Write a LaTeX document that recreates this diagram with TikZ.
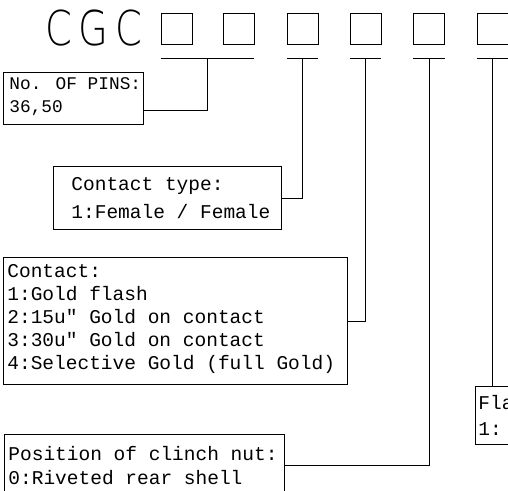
\documentclass[tikz,border=0pt]{standalone}
\usepackage{fontspec}
\usepackage{tikz}
\usetikzlibrary{calc,positioning}
\newfontfamily\cadfont{Liberation Mono}
\newfontfamily\cadbig[FakeStretch=0.8,LetterSpace=14]{DejaVu Sans ExtraLight}

\begin{document}
\begin{tikzpicture}[x=1pt,y=-1pt,line width=0.8pt,
    digit/.style={draw,minimum size=31,inner sep=0},
    frame/.style={draw,anchor=north west,inner sep=0},
    cadtext/.style={anchor=west,align=left,inner sep=0,font=\cadfont\fontsize{19.5}{23}\selectfont}]
      \useasboundingbox (0,0) rectangle (508,490);
      \node[anchor=base west,inner sep=0,font=\cadbig\fontsize{48}{48}\selectfont] (code) at (45,45) {CGC};
      \foreach \n/\x in {1/176.5,2/238.5,3/302.5,4/365.5,5/429,6/492.5}
        \node[digit] (d\n) at (\x,29) {};
      \draw ([yshift=-13]d1.south west) -- ([yshift=-13]d2.south east);
      \foreach \d in {d3,d4,d5,d6}
        \draw ([yshift=-13]\d.south west) -- ([yshift=-13]\d.south east);
      \node[frame,minimum width=140,minimum height=52] (pins) at (3,72) {};
      \node[cadtext,font=\cadfont\fontsize{17.8}{23}\selectfont] (pinstext) at ([xshift=6,yshift=2]pins.west) {No. OF PINS:\\36,50};
      \node[frame,minimum width=228,minimum height=63] (type) at (53,166) {};
      \node[cadtext] (typetext) at ([xshift=18]type.west) {Contact type:\\[5pt]1:Female / Female};
      \node[frame,minimum width=344,minimum height=127] (contact) at (3,257) {};
      \node[cadtext] (contacttext) at ([xshift=4,yshift=2]contact.west) {Contact:\\1:Gold flash\\2:15u" Gold on contact\\3:30u" Gold on contact\\4:Selective Gold (full Gold)};
      \node[frame,minimum width=280,minimum height=62] (clinch) at (4,434) {};
      \node[cadtext] (clinchtext) at ([xshift=4]clinch.west) {Position of clinch nut:\\[1pt]0:Riveted rear shell};
      \node[frame,minimum width=80,minimum height=58] (flange) at (475,386) {};
      \node[cadtext] (flangetext) at ([xshift=3]flange.west) {Fla\\[3pt]1:};
      \draw ([yshift=-12]pins.east) -| ($(d1.south)!.5!(d2.south)+(0,13)$);
      \draw (type.east) -| ($(d3.south)+(0,13)$);
      \draw (contact.east) -| ($(d4.south)+(0,13)$);
      \draw (clinch.east) -| ($(d5.south)+(0,13)$);
      \draw ($(d6.south)+(0,13)$) -- (flange.north -| d6.south);
\end{tikzpicture}
\end{document}
